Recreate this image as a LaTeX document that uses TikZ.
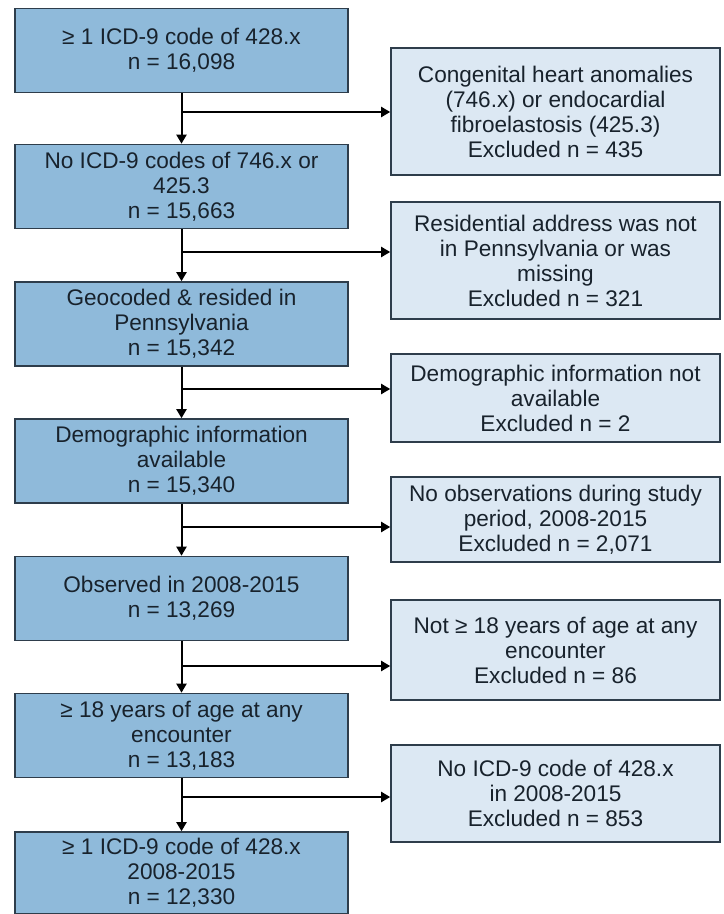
\documentclass[tikz,border=0pt]{standalone}
\usepackage{fontspec}
\setmainfont{Liberation Sans}
\definecolor{fcKeep}{HTML}{8FBADA}
\definecolor{fcDrop}{HTML}{DCE8F3}
\definecolor{fcEdge}{HTML}{2E3D4B}
\definecolor{fcText}{HTML}{18222C}
\usetikzlibrary{arrows.meta}

\begin{document}
\begin{tikzpicture}[x=0.5pt, y=-0.5pt,
  keep/.style={draw=fcEdge, line width=0.8pt, fill=fcKeep, text=fcText,
    minimum width=166.5pt, minimum height=42pt, inner sep=0pt, align=center,
    font=\fontsize{11.3}{12.5}\selectfont},
  drop/.style={keep, fill=fcDrop, minimum width=164.5pt},
  arr/.style={-{Triangle[length=4.5pt, width=5pt]}, line width=1pt, color=black}
]
  \useasboundingbox (0,0) rectangle (723,914);
  % Included cohort, left column
  \node[keep] (l1) at (181.5, 50.5) {≥ 1 ICD-9 code of 428.x\\n = 16,098};
  \node[keep] (l2) at (181.5,186.5) {No ICD-9 codes of 746.x or\\425.3\\n = 15,663};
  \node[keep] (l3) at (181.5,324) {Geocoded \& resided in\\Pennsylvania\\n = 15,342};
  \node[keep] (l4) at (181.5,461) {Demographic information\\available\\n = 15,340};
  \node[keep] (l5) at (181.5,598.5) {Observed in 2008-2015\\n = 13,269};
  \node[keep] (l6) at (181.5,735.5) {≥ 18 years of age at any\\encounter\\n = 13,183};
  \node[keep, minimum height=41pt] (l7) at (181.5,873) {≥ 1 ICD-9 code of 428.x\\2008-2015\\n = 12,330};
  % Exclusions, right column
  \node[drop, minimum height=63.5pt] (r1) at (555.5,111.5) {Congenital heart anomalies\\(746.x) or endocardial\\fibroelastosis (425.3)\\Excluded n = 435};
  \node[drop, minimum height=58.5pt] (r2) at (555.5,260.5) {Residential address was not\\in Pennsylvania or was\\missing\\Excluded n = 321};
  \node[drop, minimum height=44pt] (r3) at (555.5,398) {Demographic information not\\available\\Excluded n = 2};
  \node[drop, minimum height=42.5pt] (r4) at (555.5,519.5) {No observations during study\\period, 2008-2015\\Excluded n = 2,071};
  \node[drop, minimum height=50pt] (r5) at (555.5,650) {Not ≥ 18 years of age at any\\encounter\\Excluded n = 86};
  \node[drop, minimum height=48.5pt] (r6) at (555.5,793.5) {No ICD-9 code of 428.x\\in 2008-2015\\Excluded n = 853};
  % Branch points on the main line
  \coordinate (b1) at (181.5,112);
  \coordinate (b2) at (181.5,252);
  \coordinate (b3) at (181.5,389);
  \coordinate (b4) at (181.5,527);
  \coordinate (b5) at (181.5,666);
  \coordinate (b6) at (181.5,797);
  % Arrows
  \foreach \i/\j in {1/2, 2/3, 3/4, 4/5, 5/6, 6/7} {
    \draw[arr] (l\i) -- (l\j);
    \draw[arr] (b\i) -- (b\i -| r\i.west);
  }
\end{tikzpicture}
\end{document}
